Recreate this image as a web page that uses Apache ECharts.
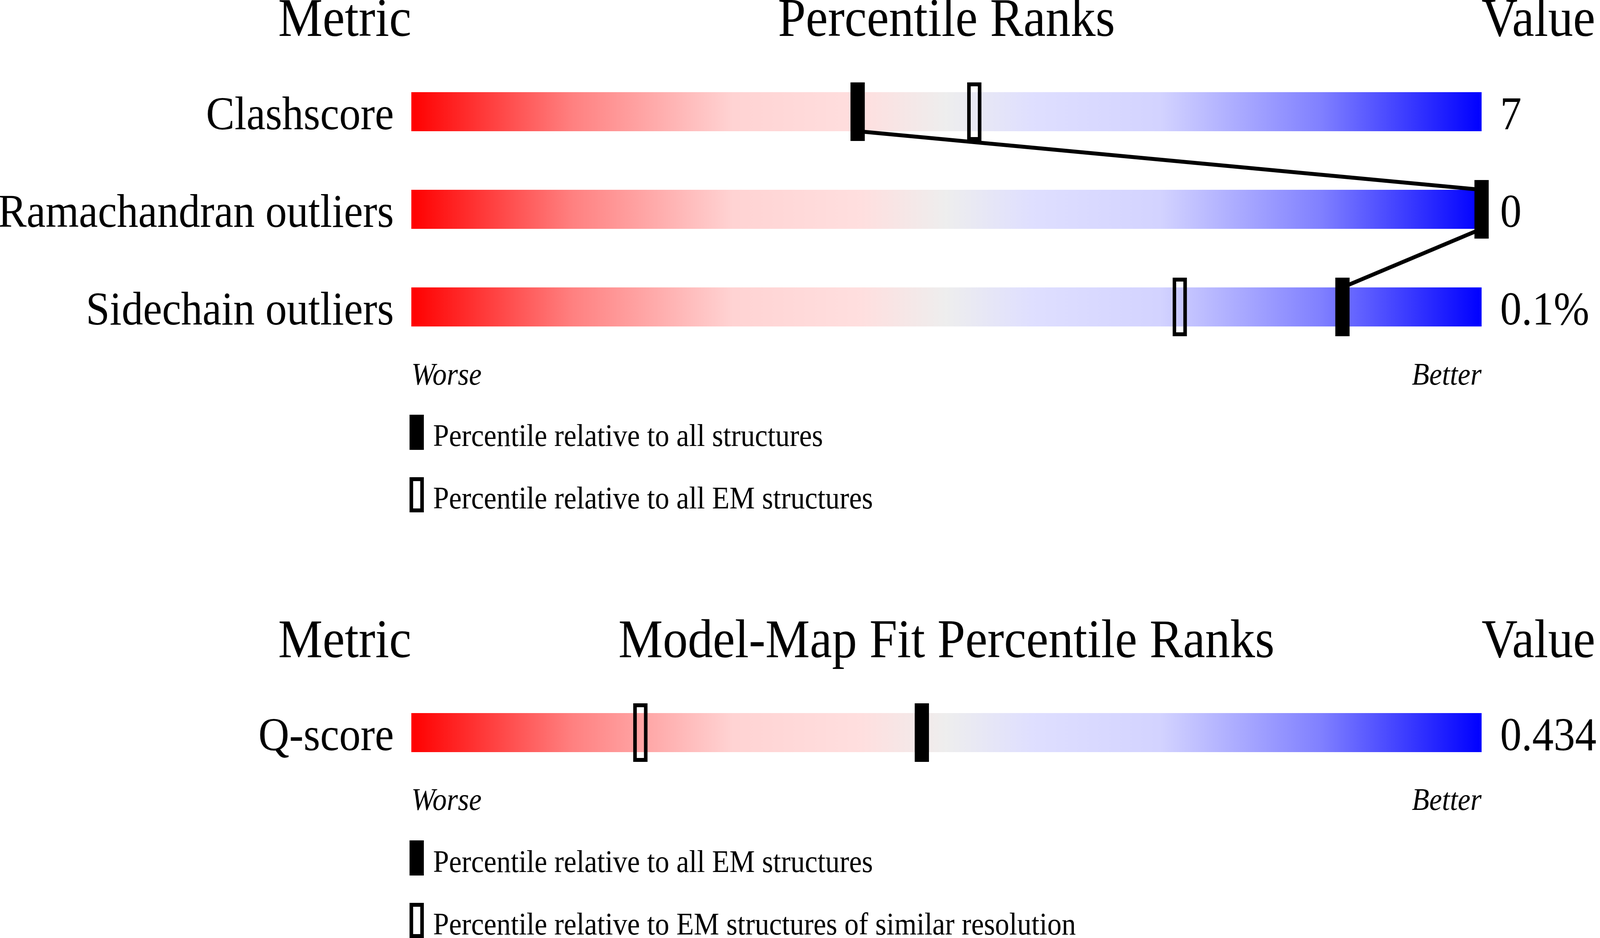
<!DOCTYPE html>
<html>
<head>
<meta charset="UTF-8">
<title>Percentile Ranks</title>
<script src="https://cdn.jsdelivr.net/npm/echarts@6/dist/echarts.min.js"></script>
<style>
    html, body { margin: 0; padding: 0; background: #fff; overflow: hidden; }
    #main { width: 4485px; height: 2402px; transform-origin: 0 0; }
</style>
</head>
<body>
<div id="main"></div>
<script type="text/javascript">
// geometry / validation metrics
var metrics = ['Clashscore', 'Ramachandran outliers', 'Sidechain outliers'];
var metricValues = ['7', '0', '0.1%'];
var pctAll = [41.7, 100, 87.0];   // relative to all structures (filled)
var pctEM = [52.6, 100, 71.8];    // relative to all EM structures (open)

// model-map fit
var fitMetrics = ['Q-score'];
var fitValues = ['0.434'];
var fitPctEM = [47.7];            // relative to all EM structures (filled)
var fitPctRes = [21.4];           // relative to similar resolution (open)

var FONT = 'Liberation Serif';
var gradStops = [
    { offset: 0, color: '#ff0000' },
    { offset: 0.15, color: '#ff8080' },
    { offset: 0.3, color: '#ffd3d3' },
    { offset: 0.42, color: '#ffdfdf' },
    { offset: 0.5, color: '#eeeeee' },
    { offset: 0.58, color: '#dfdfff' },
    { offset: 0.7, color: '#d3d3ff' },
    { offset: 0.85, color: '#8080ff' },
    { offset: 1, color: '#0000ff' }
];

// the chart is laid out at 4485x2402; stretch it to whatever the window really is
var box = document.getElementById('main');
box.style.transform = 'scale(' + (window.innerWidth / 4485) + ',' + (window.innerHeight / 2402) + ')';

var myChart = echarts.init(box);

function rowText(text, x, y, align) {
    return {
        type: 'text', x: x, y: y,
        style: { text: text, fill: '#000', font: '120px "' + FONT + '"', align: align, verticalAlign: 'middle' }
    };
}

// gradient bar plus metric name on the left and its value on the right
function barItem(params, api) {
    var a = api.coord([api.value(0), api.value(1)]);
    var b = api.coord([api.value(2), api.value(1)]);
    var h = api.size([0, 1])[1] * 0.4;
    var names = params.seriesIndex === 0 ? metrics : fitMetrics;
    var vals = params.seriesIndex === 0 ? metricValues : fitValues;
    return {
        type: 'group',
        children: [
            {
                type: 'rect',
                shape: { x: a[0], y: a[1] - h / 2, width: b[0] - a[0], height: h },
                style: { fill: new echarts.graphic.LinearGradient(0, 0, 1, 0, gradStops) }
            },
            rowText(names[params.dataIndex], a[0] - 49, a[1] + 13, 'right'),
            rowText(vals[params.dataIndex], b[0] + 52, a[1] + 13, 'left')
        ]
    };
}

function filledItem(params, api) {
    var p = api.coord([api.value(0), api.value(1)]);
    var h = api.size([0, 1])[1] * 0.6;
    return {
        type: 'rect',
        shape: { x: p[0] - 20, y: p[1] - h / 2, width: 40, height: h },
        style: { fill: '#000' }
    };
}

function openItem(params, api) {
    var p = api.coord([api.value(0), api.value(1)]);
    var h = api.size([0, 1])[1] * 0.6;
    return {
        type: 'rect',
        shape: { x: p[0] - 15, y: p[1] - h / 2 + 5, width: 30, height: h - 10 },
        style: { fill: 'none', stroke: '#000', lineWidth: 10 }
    };
}

// joins the filled markers: bottom of one bar to top of the next
function linkItem(params, api) {
    var a = api.coord([api.value(0), api.value(1)]);
    var b = api.coord([api.value(2), api.value(3)]);
    var half = api.size([0, 1])[1] * 0.2;
    return {
        type: 'line',
        shape: { x1: a[0], y1: a[1] + half, x2: b[0], y2: b[1] - half },
        style: { stroke: '#000', lineWidth: 10 }
    };
}

function rows(list) {
    return list.map(function (v, i) { return [v, i]; });
}

var links = [];
for (var i = 0; i < pctAll.length - 1; i++) {
    links.push([pctAll[i], i, pctAll[i + 1], i + 1]);
}

function txt(text, x, y, size, align, italic) {
    return {
        type: 'text', x: x, y: y, silent: true,
        style: {
            text: text, fill: '#000',
            font: (italic ? 'italic ' : '') + size + 'px "' + FONT + '"',
            align: align, verticalAlign: 'middle'
        }
    };
}

function legendMark(x, y, filled) {
    if (filled) {
        return { type: 'rect', shape: { x: x, y: y, width: 40, height: 90 }, style: { fill: '#000' } };
    }
    return { type: 'rect', shape: { x: x + 5, y: y + 5, width: 30, height: 80 }, style: { fill: 'none', stroke: '#000', lineWidth: 10 } };
}

var option = {
    animation: false,
    backgroundColor: '#fff',
    grid: [
        { left: 1153, width: 3000, top: 161, height: 750 },
        { left: 1153, width: 3000, top: 1751, height: 250 }
    ],
    xAxis: [
        { gridIndex: 0, type: 'value', min: 0, max: 100, show: false },
        { gridIndex: 1, type: 'value', min: 0, max: 100, show: false }
    ],
    yAxis: [
        { gridIndex: 0, type: 'category', inverse: true, data: metrics, show: false },
        { gridIndex: 1, type: 'category', inverse: true, data: fitMetrics, show: false }
    ],
    series: [
        {
            type: 'custom', xAxisIndex: 0, yAxisIndex: 0, renderItem: barItem,
            encode: { x: [0, 2], y: 1 },
            data: metrics.map(function (m, i) { return [0, i, 100]; })
        },
        {
            type: 'custom', xAxisIndex: 1, yAxisIndex: 1, renderItem: barItem,
            encode: { x: [0, 2], y: 1 },
            data: fitMetrics.map(function (m, i) { return [0, i, 100]; })
        },
        {
            type: 'custom', xAxisIndex: 0, yAxisIndex: 0, renderItem: linkItem,
            encode: { x: [0, 2], y: [1, 3] },
            data: links
        },
        {
            type: 'custom', xAxisIndex: 0, yAxisIndex: 0, renderItem: openItem,
            encode: { x: 0, y: 1 }, data: rows(pctEM)
        },
        {
            type: 'custom', xAxisIndex: 0, yAxisIndex: 0, renderItem: filledItem,
            encode: { x: 0, y: 1 }, data: rows(pctAll)
        },
        {
            type: 'custom', xAxisIndex: 1, yAxisIndex: 1, renderItem: openItem,
            encode: { x: 0, y: 1 }, data: rows(fitPctRes)
        },
        {
            type: 'custom', xAxisIndex: 1, yAxisIndex: 1, renderItem: filledItem,
            encode: { x: 0, y: 1 }, data: rows(fitPctEM)
        }
    ],
    graphic: [
        txt('Metric', 1153, 55, 140, 'right'),
        txt('Percentile Ranks', 2653, 55, 140, 'center'),
        txt('Value', 4153, 55, 140, 'left'),
        txt('Worse', 1153, 964, 80, 'left', true),
        txt('Better', 4153, 964, 80, 'right', true),
        legendMark(1148, 1062, true),
        txt('Percentile relative to all structures', 1214, 1121, 80, 'left'),
        legendMark(1148, 1222, false),
        txt('Percentile relative to all EM structures', 1214, 1281, 80, 'left'),

        txt('Metric', 1153, 1646, 140, 'right'),
        txt('Model-Map Fit Percentile Ranks', 2653, 1646, 140, 'center'),
        txt('Value', 4153, 1646, 140, 'left'),
        txt('Worse', 1153, 2053, 80, 'left', true),
        txt('Better', 4153, 2053, 80, 'right', true),
        legendMark(1148, 2152, true),
        txt('Percentile relative to all EM structures', 1214, 2212, 80, 'left'),
        legendMark(1148, 2312, false),
        txt('Percentile relative to EM structures of similar resolution', 1214, 2372, 80, 'left')
    ]
};
myChart.setOption(option);
</script>
</body>
</html>
